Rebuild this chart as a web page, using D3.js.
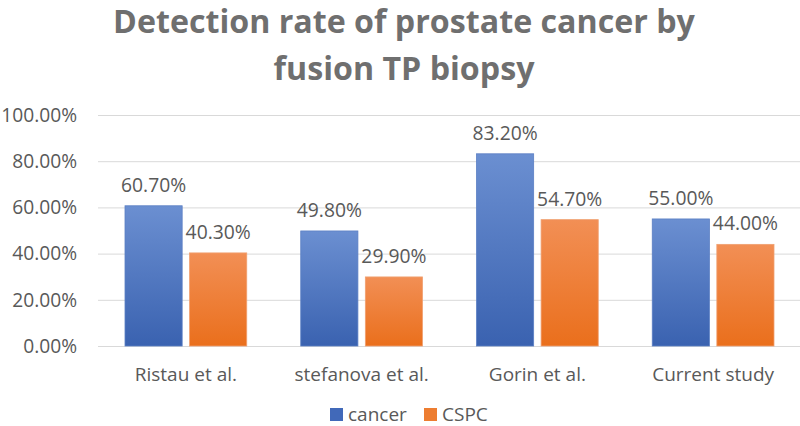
<!DOCTYPE html>
<html lang="en">
<head>
<meta charset="UTF-8">
<title>Detection rate</title>
<style>
    body { margin: 0; padding: 0; background: #fff; }
    svg { display: block; font-family: "Open Sans", "Noto Sans", sans-serif; }
    .grid line { stroke: #d9d9d9; stroke-width: 1; }
    .grid path { display: none; }
</style>
</head>
<body>
<div id="chart"></div>
<script src="https://cdn.jsdelivr.net/npm/d3@7"></script>
<script>
    // data
    const studies = ["Ristau et al.", "stefanova et al.", "Gorin et al.", "Current study"];
    const cancer = [60.7, 49.8, 83.2, 55.0];
    const cspc = [40.3, 29.9, 54.7, 44.0];
    const seriesNames = ["cancer", "CSPC"];
    const yTicks = [0, 20, 40, 60, 80, 100];
    const titleLines = ["Detection rate of prostate cancer by", "fusion TP biopsy"];

    const w = 800;
    const h = 426;
    const textColor = "#595959";

    const svg = d3.select("#chart")
        .append("svg")
        .attr("width", w)
        .attr("height", h);

    // gradients like the office look
    const defs = svg.append("defs");
    const grads = [
        { id: "gBlue", top: "#6b8fd1", bottom: "#3a62b0" },
        { id: "gOrange", top: "#f28f55", bottom: "#ea6f1c" }
    ];
    grads.forEach(g => {
        const lg = defs.append("linearGradient")
            .attr("id", g.id)
            .attr("x1", 0).attr("y1", 0).attr("x2", 0).attr("y2", 1);
        lg.append("stop").attr("offset", "0%").attr("stop-color", g.top);
        lg.append("stop").attr("offset", "100%").attr("stop-color", g.bottom);
    });
    const fills = ["url(#gBlue)", "url(#gOrange)"];
    const legendColors = ["#4169b9", "#ed7d31"];

    // fit text to a width by adjusting font-size
    function fitWidth(sel, target) {
        const node = sel.node();
        const size = parseFloat(sel.attr("font-size"));
        const len = node.getComputedTextLength();
        sel.attr("font-size", size * target / len);
    }

    // title
    const t1 = svg.append("text")
        .attr("x", 404).attr("y", 33)
        .attr("text-anchor", "middle")
        .attr("font-weight", "bold")
        .attr("font-size", 36)
        .attr("fill", "#6f6f6f")
        .text(titleLines[0]);
    fitWidth(t1, 582);
    svg.append("text")
        .attr("x", 404).attr("y", 80)
        .attr("text-anchor", "middle")
        .attr("font-weight", "bold")
        .attr("font-size", t1.attr("font-size"))
        .attr("fill", "#6f6f6f")
        .text(titleLines[1]);

    // scales
    const x = d3.scaleBand()
        .domain(studies)
        .range([98, 801])
        .paddingInner(0)
        .paddingOuter(0);

    const x1 = d3.scaleBand()
        .domain(seriesNames)
        .range([27, x.bandwidth() - 27])
        .paddingInner(0.115);

    const y = d3.scaleLinear()
        .domain([0, 100])
        .range([346, 115]);

    // gridlines
    svg.append("g")
        .attr("class", "grid")
        .attr("transform", "translate(98,0)")
        .call(d3.axisLeft(y).tickValues(yTicks).tickSize(-710).tickFormat(""));

    // y tick labels
    svg.append("g")
        .selectAll("text")
        .data(yTicks)
        .enter()
        .append("text")
        .attr("x", 77)
        .attr("y", d => y(d))
        .attr("dy", "0.35em")
        .attr("text-anchor", "end")
        .attr("font-size", 19.2)
        .attr("fill", textColor)
        .text(d => d.toFixed(2) + "%");

    // bars
    const rows = studies.map((s, i) => ({ study: s, values: [cancer[i], cspc[i]] }));

    const groups = svg.append("g")
        .selectAll("g")
        .data(rows)
        .enter()
        .append("g")
        .attr("transform", d => `translate(${x(d.study)},0)`);

    groups.selectAll("rect")
        .data(d => d.values.map((v, i) => ({ key: seriesNames[i], value: v, i: i })))
        .enter()
        .append("rect")
        .attr("x", d => x1(d.key))
        .attr("y", d => y(d.value))
        .attr("width", x1.bandwidth())
        .attr("height", d => y(0) - y(d.value))
        .attr("fill", d => fills[d.i])
        .attr("stroke", d => d.i === 0 ? "#5b7fc4" : "#f0a070")
        .attr("stroke-width", 0.8);

    // data labels
    groups.selectAll("text")
        .data(d => d.values.map((v, i) => ({ key: seriesNames[i], value: v })))
        .enter()
        .append("text")
        .attr("x", d => x1(d.key) + x1.bandwidth() / 2)
        .attr("y", d => y(d.value) - 14)
        .attr("text-anchor", "middle")
        .attr("font-size", 19.3)
        .attr("fill", textColor)
        .text(d => d.value.toFixed(2) + "%");

    // category labels
    svg.append("g")
        .selectAll("text")
        .data(studies)
        .enter()
        .append("text")
        .attr("x", d => x(d) + x.bandwidth() / 2)
        .attr("y", 381)
        .attr("text-anchor", "middle")
        .attr("font-size", 19)
        .attr("fill", textColor)
        .text(d => d);

    // legend
    const legendX = [330, 424];
    const legend = svg.append("g")
        .selectAll("g")
        .data(seriesNames)
        .enter()
        .append("g")
        .attr("transform", (d, i) => `translate(${legendX[i]},408)`);

    legend.append("rect")
        .attr("width", 13)
        .attr("height", 13)
        .attr("fill", (d, i) => legendColors[i]);

    legend.append("text")
        .attr("x", 18)
        .attr("y", 13)
        .attr("font-size", 19)
        .attr("fill", textColor)
        .text(d => d);
</script>
</body>
</html>
